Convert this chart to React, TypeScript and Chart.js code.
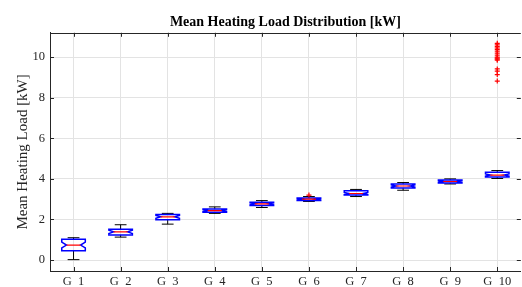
import React, { useEffect, useRef } from 'react';
import { Chart, registerables } from 'chart.js';

Chart.register(...registerables);

const categories = ['G  1', 'G  2', 'G  3', 'G  4', 'G  5', 'G  6', 'G  7', 'G  8', 'G  9', 'G  10'];
const whiskerLow = [0.02, 1.13, 1.77, 2.30, 2.59, 2.89, 3.13, 3.44, 3.75, 4.02];
const q1 = [0.46, 1.24, 1.98, 2.35, 2.69, 2.94, 3.20, 3.55, 3.80, 4.09];
const medians = [0.74, 1.39, 2.13, 2.44, 2.77, 3.00, 3.28, 3.65, 3.87, 4.19];
const q3 = [1.02, 1.52, 2.25, 2.52, 2.85, 3.06, 3.41, 3.75, 3.95, 4.33];
const whiskerHigh = [1.10, 1.74, 2.30, 2.62, 2.93, 3.13, 3.48, 3.82, 4.00, 4.41];
const notchHalf = [0.14, 0.08, 0.07, 0.05, 0.05, 0.04, 0.05, 0.05, 0.04, 0.05];
const outlierGroup = [6, 10, 10, 10, 10, 10, 10, 10, 10, 10, 10, 10, 10, 10, 10, 10, 10];
const outlierValue = [3.20, 10.68, 10.6, 10.52, 10.45, 10.38, 10.3, 10.2, 10.1, 10.0, 9.95, 9.9, 9.85, 9.42, 9.31, 9.14, 8.82];
const yTicks = [0, 2, 4, 6, 8, 10];

const SERIF = '"Liberation Serif", "Times New Roman", serif';

const boxPlugin = {
  id: 'notchedBoxes',
  beforeDatasetsDraw(chart: any) {
    const { ctx, chartArea, scales } = chart;
    const x = scales.x;
    const y = scales.y;
    ctx.save();
    ctx.beginPath();
    ctx.rect(chartArea.left, chartArea.top, chartArea.right - chartArea.left, chartArea.bottom - chartArea.top);
    ctx.clip();
    for (let i = 0; i < categories.length; i++) {
      const cx = x.getPixelForValue(i + 1);
      const hw = x.getPixelForValue(i + 1.25) - cx;
      const nw = hw * 0.6;
      const cap = hw * 0.5;
      const pLow = y.getPixelForValue(whiskerLow[i]);
      const pQ1 = y.getPixelForValue(q1[i]);
      const pMed = y.getPixelForValue(medians[i]);
      const pQ3 = y.getPixelForValue(q3[i]);
      const pHigh = y.getPixelForValue(whiskerHigh[i]);
      const nLo = y.getPixelForValue(medians[i] - notchHalf[i]);
      const nHi = y.getPixelForValue(medians[i] + notchHalf[i]);

      ctx.strokeStyle = '#000';
      ctx.lineWidth = 1;
      ctx.beginPath();
      ctx.moveTo(cx, pQ3); ctx.lineTo(cx, pHigh);
      ctx.moveTo(cx, pQ1); ctx.lineTo(cx, pLow);
      ctx.moveTo(cx - cap, pHigh); ctx.lineTo(cx + cap, pHigh);
      ctx.moveTo(cx - cap, pLow); ctx.lineTo(cx + cap, pLow);
      ctx.stroke();

      ctx.strokeStyle = '#0000ff';
      ctx.lineWidth = 1.5;
      ctx.beginPath();
      ctx.moveTo(cx - hw, pQ1);
      ctx.lineTo(cx - hw, nLo);
      ctx.lineTo(cx - nw, pMed);
      ctx.lineTo(cx - hw, nHi);
      ctx.lineTo(cx - hw, pQ3);
      ctx.lineTo(cx + hw, pQ3);
      ctx.lineTo(cx + hw, nHi);
      ctx.lineTo(cx + nw, pMed);
      ctx.lineTo(cx + hw, nLo);
      ctx.lineTo(cx + hw, pQ1);
      ctx.closePath();
      ctx.stroke();

      ctx.strokeStyle = '#ff0000';
      ctx.lineWidth = 1.2;
      ctx.beginPath();
      ctx.moveTo(cx - nw, pMed);
      ctx.lineTo(cx + nw, pMed);
      ctx.stroke();
    }
    ctx.restore();
  },
  afterDraw(chart: any) {
    const { ctx, chartArea, scales } = chart;
    const x = scales.x;
    const y = scales.y;
    ctx.save();
    ctx.strokeStyle = '#262626';
    ctx.lineWidth = 1;
    ctx.beginPath();
    const top = Math.round(chartArea.top) + 0.5;
    ctx.moveTo(chartArea.left, top);
    ctx.lineTo(chartArea.right, top);
    const tl = 4;
    for (const t of x.ticks) {
      const px = Math.round(x.getPixelForValue(t.value)) + 0.5;
      ctx.moveTo(px, chartArea.bottom);
      ctx.lineTo(px, chartArea.bottom - tl);
      ctx.moveTo(px, chartArea.top);
      ctx.lineTo(px, chartArea.top + tl);
    }
    for (const t of y.ticks) {
      const py = Math.round(y.getPixelForValue(t.value)) + 0.5;
      ctx.moveTo(chartArea.left, py);
      ctx.lineTo(chartArea.left + tl, py);
      ctx.moveTo(chartArea.right, py);
      ctx.lineTo(chartArea.right - tl, py);
    }
    ctx.stroke();
    ctx.restore();
  },
};

export default function App() {
  const ref = useRef<HTMLCanvasElement>(null);
  useEffect(() => {
    if (!ref.current) return;
    const chart = new Chart(ref.current, {
      type: 'scatter',
      data: {
        datasets: [
          {
            label: 'Outliers',
            data: outlierGroup.map((g, i) => ({ x: g, y: outlierValue[i] })),
            pointStyle: 'cross',
            pointRadius: 2.5,
            pointBorderColor: '#ff0000',
            pointBackgroundColor: '#ff0000',
            pointBorderWidth: 1.2,
            borderColor: '#ff0000',
          } as any,
        ],
      },
      options: {
        animation: false,
        responsive: false,
        devicePixelRatio: 1,
        layout: { padding: 0 },
        plugins: {
          legend: { display: false },
          tooltip: { enabled: false },
          title: {
            display: true,
            text: 'Mean Heating Load Distribution [kW]',
            fullSize: false,
            color: '#000',
            font: { family: SERIF, size: 14, weight: 'bold' },
            padding: { top: 14, bottom: 2 },
          },
        },
        scales: {
          x: {
            type: 'linear',
            min: 0.5,
            max: 10.5,
            afterBuildTicks: (s: any) => {
              s.ticks = categories.map((_, i) => ({ value: i + 1 }));
            },
            afterFit: (s: any) => {
              s.height = 16;
            },
            ticks: {
              color: '#262626',
              font: { family: SERIF, size: 12.5 },
              padding: 3,
              maxRotation: 0,
              autoSkip: false,
              callback: (v: any) => categories[Math.round(Number(v)) - 1] ?? '',
            },
            grid: { color: '#e3e3e3', drawTicks: false },
            border: { display: true, color: '#262626', width: 1 },
          },
          y: {
            type: 'linear',
            min: -0.54,
            max: 11.2,
            afterBuildTicks: (s: any) => {
              s.ticks = yTicks.map((v) => ({ value: v }));
            },
            afterFit: (s: any) => {
              s.width = 50;
            },
            ticks: {
              color: '#262626',
              font: { family: SERIF, size: 12.5 },
              padding: 5,
              callback: (v: any) => String(v),
            },
            grid: { color: '#e3e3e3', drawTicks: false },
            border: { display: true, color: '#262626', width: 1 },
            title: {
              display: true,
              text: 'Mean Heating Load [kW]',
              color: '#262626',
              font: { family: SERIF, size: 15 },
              padding: { top: 14, bottom: 0 },
            },
          },
        },
      },
      plugins: [boxPlugin],
    });
    return () => chart.destroy();
  }, []);
  return (
    <div style={{ position: 'fixed', left: 0, top: 0, width: 522, height: 287, overflow: 'hidden', background: '#fff' }}>
      <canvas ref={ref} width={526} height={287} style={{ width: 526, height: 287, display: 'block' }} />
    </div>
  );
}
